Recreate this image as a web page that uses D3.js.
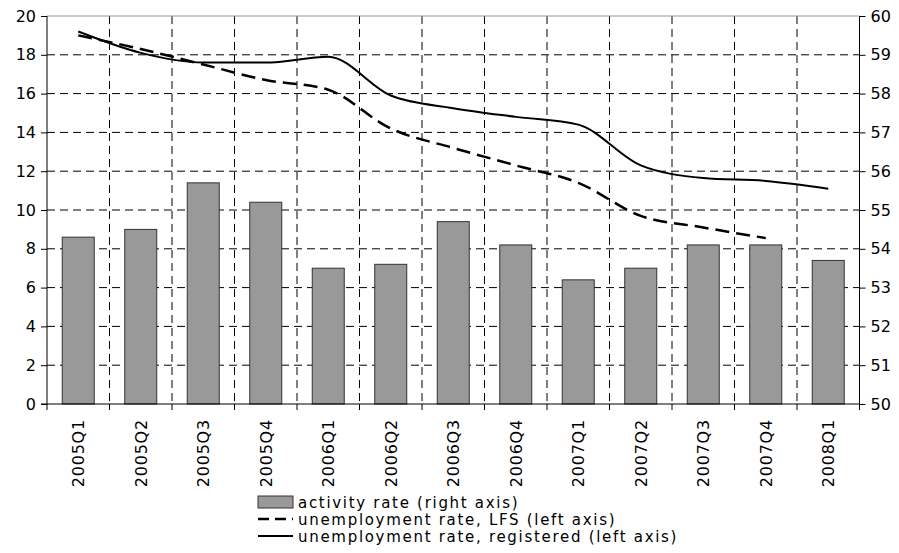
<!DOCTYPE html>
<html><head><meta charset="utf-8">
<script src="https://cdn.jsdelivr.net/npm/d3@7"></script>
<style>body{margin:0;background:#fff}text{font-family:"DejaVu Sans",Verdana,sans-serif;font-size:16px;fill:#000}</style>
</head><body>
<svg id="c" width="899" height="553"></svg>
<script>
var quarters = ["2005Q1","2005Q2","2005Q3","2005Q4","2006Q1","2006Q2","2006Q3","2006Q4","2007Q1","2007Q2","2007Q3","2007Q4","2008Q1"];
var activity = [54.3,54.5,55.7,55.2,53.5,53.6,54.7,54.1,53.2,53.5,54.1,54.1,53.7];
var lfs = [19.0,18.3,17.5,16.7,16.2,14.2,13.2,12.3,11.4,9.7,9.1,8.55,null];
var registered = [19.2,18.1,17.6,17.6,17.9,15.9,15.25,14.8,14.4,12.3,11.65,11.5,11.1];
var leftTicks = [0,2,4,6,8,10,12,14,16,18,20];
var rightTicks = [50,51,52,53,54,55,56,57,58,59,60];

var svg = d3.select("#c");
var L = 47, R = 859.5, T = 16, B = 404;
var x = d3.scaleBand().domain(quarters).range([L, R]);
var yL = d3.scaleLinear().domain([0, 20]).range([B, T]);
var yR = d3.scaleLinear().domain([50, 60]).range([B, T]);

// grid
svg.selectAll(".hg").data(leftTicks.slice(1, -1)).enter().append("line")
  .attr("x1", L).attr("x2", R).attr("y1", d => yL(d)).attr("y2", d => yL(d))
  .attr("stroke", "#000").attr("stroke-dasharray", "8,5");
svg.selectAll(".vg").data(quarters.slice(1)).enter().append("line")
  .attr("x1", d => x(d)).attr("x2", d => x(d)).attr("y1", T).attr("y2", B)
  .attr("stroke", "#000").attr("stroke-dasharray", "8,5");
svg.append("line").attr("x1", L).attr("x2", R).attr("y1", T).attr("y2", T).attr("stroke", "#999");

// bars
var bw = 32;
svg.selectAll(".bar").data(activity).enter().append("rect")
  .attr("x", (d, i) => x(quarters[i]) + x.bandwidth() / 2 - bw / 2)
  .attr("width", bw)
  .attr("y", d => yR(d)).attr("height", d => B - yR(d))
  .attr("fill", "#999").attr("stroke", "#333").attr("stroke-width", 1);

// lines
var line = d3.line().defined(d => d != null)
  .x((d, i) => x(quarters[i]) + x.bandwidth() / 2).y(d => yL(d))
  .curve(d3.curveMonotoneX);
svg.append("path").attr("d", line(lfs)).attr("fill", "none").attr("stroke", "#000")
  .attr("stroke-width", 2.5).attr("stroke-dasharray", "14,7");
svg.append("path").attr("d", line(registered)).attr("fill", "none").attr("stroke", "#000")
  .attr("stroke-width", 2);

// axes
svg.append("line").attr("x1", L - 6).attr("x2", R).attr("y1", B).attr("y2", B).attr("stroke", "#000");
svg.selectAll(".xt").data([L].concat(quarters.map(q => x(q) + x.bandwidth()))).enter().append("line")
  .attr("x1", d => d).attr("x2", d => d).attr("y1", B).attr("y2", B + 6).attr("stroke", "#000");
svg.selectAll(".xl").data(quarters).enter().append("text")
  .attr("transform", d => "translate(" + (x(d) + x.bandwidth() / 2 + 6) + "," + (B + 15) + ") rotate(-90)")
  .attr("text-anchor", "end").style("letter-spacing", "0.8px").text(d => d);

var gl = svg.append("g").attr("transform", "translate(" + L + ",0)")
  .call(d3.axisLeft(yL).tickValues(leftTicks).tickSize(6).tickPadding(5));
var gr = svg.append("g").attr("transform", "translate(" + R + ",0)")
  .call(d3.axisRight(yR).tickValues(rightTicks).tickSize(6).tickPadding(5));
[gl, gr].forEach(g => {
  g.selectAll("text").style("font-family", "DejaVu Sans").style("font-size", "16px").style("fill", "#000");
  g.selectAll("line").attr("stroke", "#000");
  g.select(".domain").attr("stroke", "#000").attr("d", "M0," + T + "V" + B);
});

// legend
var lg = svg.append("g").attr("transform", "translate(258,0)");
lg.append("rect").attr("x", 0).attr("y", 496).attr("width", 35).attr("height", 12).attr("fill", "#999").attr("stroke", "#333");
lg.append("line").attr("x1", 0).attr("x2", 35).attr("y1", 519).attr("y2", 519).attr("stroke", "#000").attr("stroke-width", 2.5).attr("stroke-dasharray", "11,6");
lg.append("line").attr("x1", 0).attr("x2", 35).attr("y1", 536).attr("y2", 536).attr("stroke", "#000").attr("stroke-width", 2);
var names = ["activity rate (right axis)", "unemployment rate, LFS (left axis)", "unemployment rate, registered (left axis)"];
lg.selectAll(".lt").data(names).enter().append("text")
  .attr("x", 40).attr("y", (d, i) => 508 + i * 17)
  .style("font-size", "15px").style("letter-spacing", "1.7px").text(d => d);
</script>
</body></html>
